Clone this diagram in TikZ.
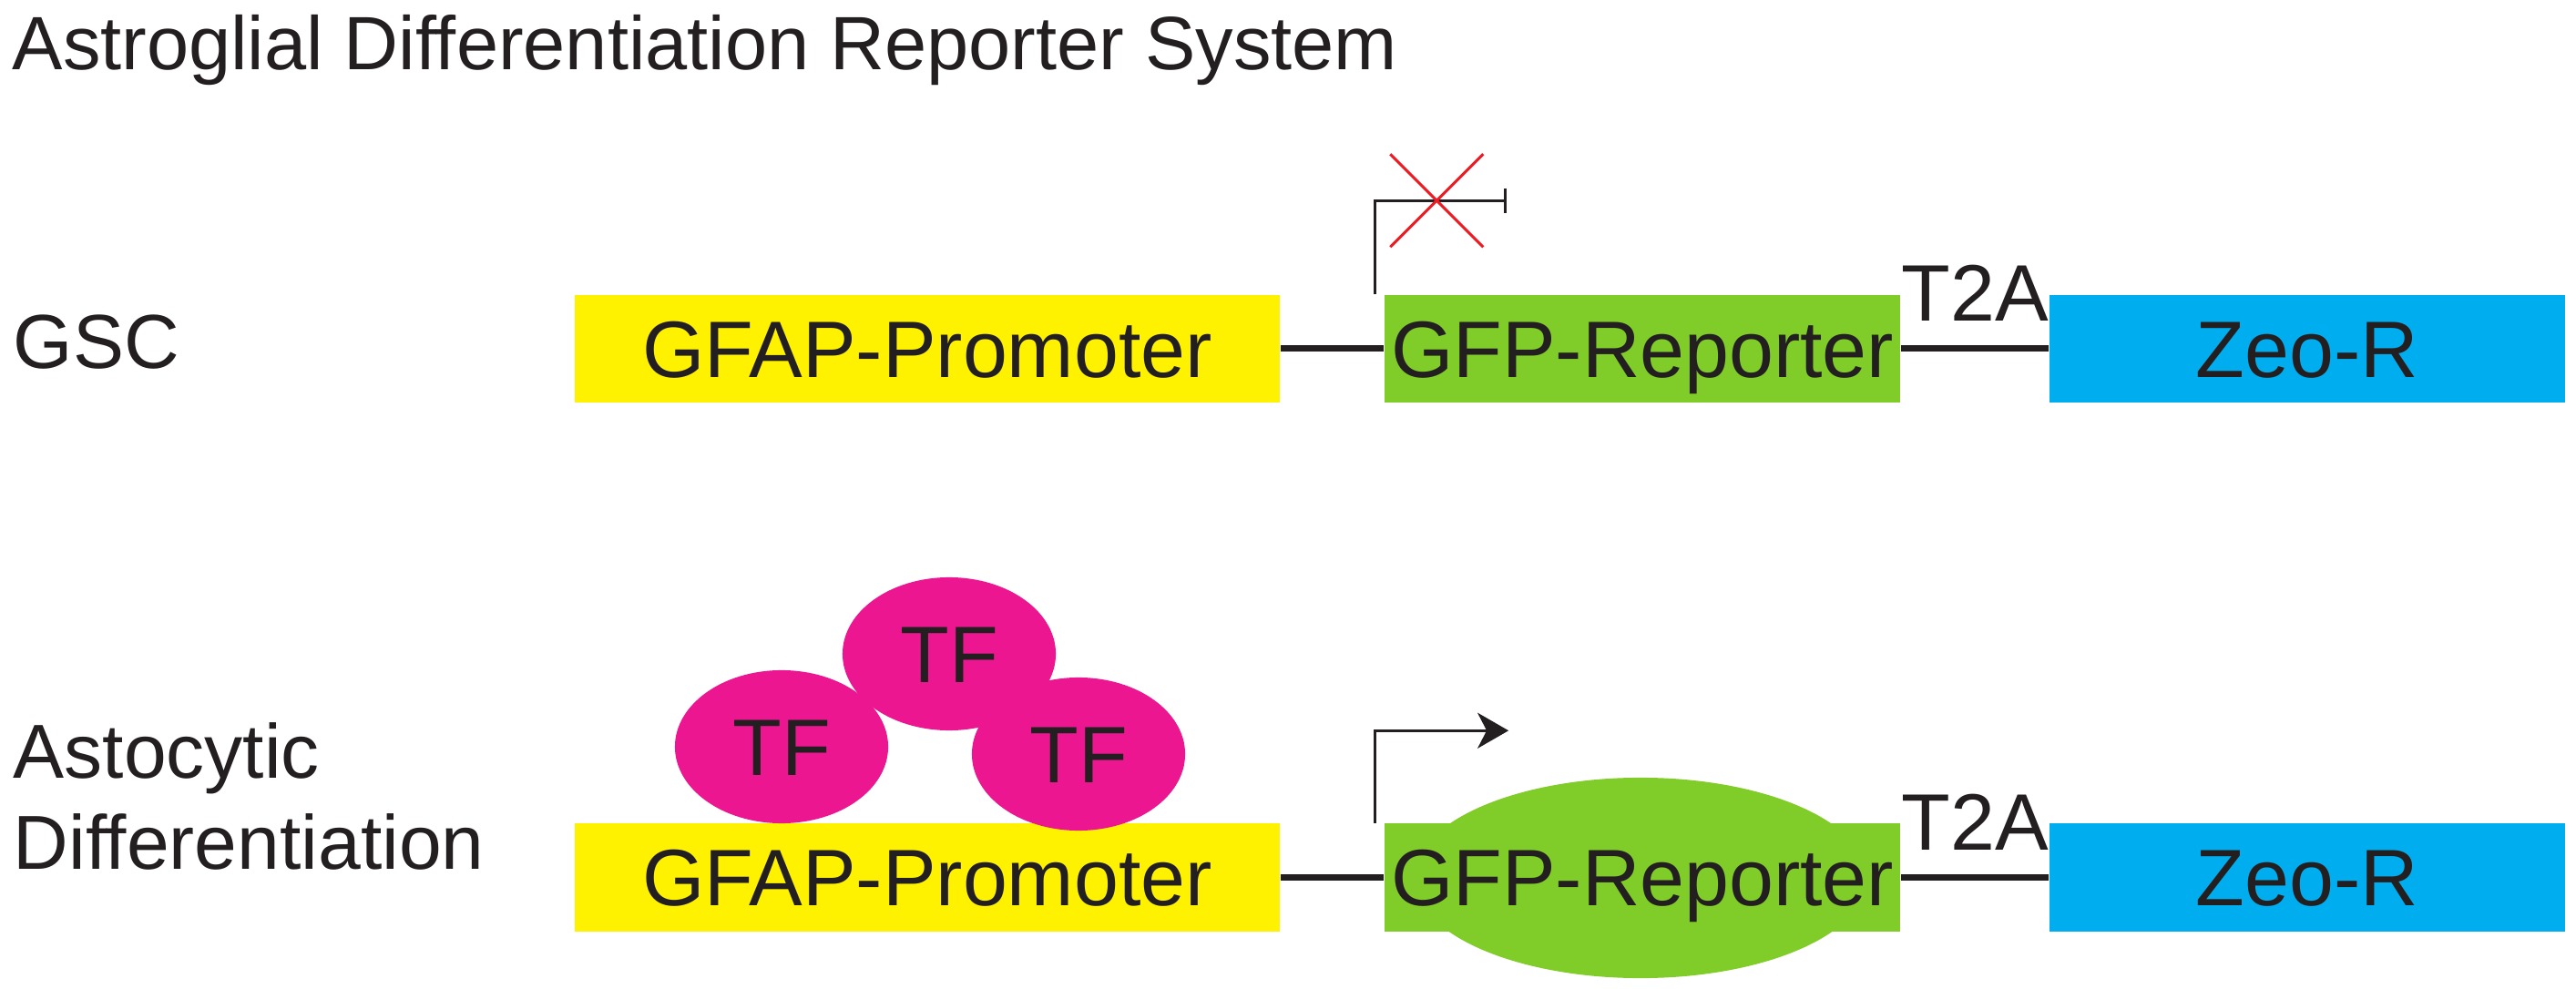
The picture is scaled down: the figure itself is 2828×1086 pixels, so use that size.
\documentclass[tikz,border=0pt]{standalone}
\usepackage{fontspec}
\setmainfont{Liberation Sans}
\usepackage{tikz}
\usetikzlibrary{%
	arrows.meta,%
	shapes.geometric%
}
\definecolor{inkblack}{RGB}{35,31,32}
\definecolor{promyellow}{RGB}{255,242,0}
\definecolor{gfpgreen}{RGB}{128,204,40}
\definecolor{zeoblue}{RGB}{0,174,239}
\definecolor{tfpink}{RGB}{237,22,145}
\definecolor{blockred}{RGB}{237,28,36}
\tikzstyle{gene}=[rectangle, inner sep=0pt, minimum height=1.18cm, text=inkblack, font=\fontsize{25}{30}\selectfont, text height=17.9pt, text depth=0pt]
\tikzstyle{tf}=[ellipse, fill=tfpink, inner sep=0pt, minimum width=2.34cm, minimum height=1.68cm, text=inkblack, font=\fontsize{25}{30}\selectfont, text height=17.9pt, text depth=0pt]
\tikzstyle{rowlabel}=[anchor=base west, inner sep=0pt, text=inkblack, font=\fontsize{23.9}{28}\selectfont]
\tikzstyle{linker}=[anchor=base, inner sep=0pt, yshift=0.3cm, text=inkblack, font=\fontsize{25}{30}\selectfont]
\tikzstyle{dna}=[draw=inkblack, line width=0.07cm]
\tikzstyle{tss}=[draw=inkblack, line width=0.03cm]
\tikzstyle{cross}=[draw=blockred, line width=0.03cm]

\begin{document}
\begin{tikzpicture}[x=0.01cm, y=-0.01cm]
	\useasboundingbox (0,0) rectangle (2828,1086);
	
	% Labels
	\node[rowlabel, font=\fontsize{23.6}{28}\selectfont] (title) at (13,77) {Astroglial Differentiation Reporter System};
	\node[rowlabel] (gsc) at (14,405) {GSC};
	\node[rowlabel] (astro) at (14,854) {Astocytic};
	\node[rowlabel] (diff) at (14,954) {Differentiation};
	
	% GSC row
	\node[gene, fill=promyellow, minimum width=7.74cm] (prom1) at (1018,383) {GFAP-Promoter};
	\node[gene, fill=gfpgreen, minimum width=5.66cm] (gfp1) at (1803,383) {GFP-Reporter};
	\node[gene, fill=zeoblue, minimum width=5.66cm] (zeo1) at (2533,383) {Zeo-R};
	\draw[dna] (prom1) -- (gfp1);
	\draw[dna] (gfp1) -- node[linker] {T2A} (zeo1);
	
	\coordinate (tss1) at ([xshift=-0.1cm]gfp1.north west);
	\draw[tss, -{Bar[width=0.27cm]}] (tss1) -- ++(0,-103) -- coordinate[pos=0.47] (block) ++(145,0);
	\draw[cross] (block) ++(-51,-51) -- ++(102,102);
	\draw[cross] (block) ++(51,-51) -- ++(-102,102);
	
	% Differentiation row
	\node[ellipse, fill=gfpgreen, inner sep=0pt, minimum width=4.98cm, minimum height=2.2cm] (blob) at (1801,964) {};
	\node[gene, fill=promyellow, minimum width=7.74cm] (prom2) at (1018,963.5) {GFAP-Promoter};
	\node[gene, fill=gfpgreen, minimum width=5.66cm] (gfp2) at (1803,963.5) {GFP-Reporter};
	\node[gene, fill=zeoblue, minimum width=5.66cm] (zeo2) at (2533,963.5) {Zeo-R};
	\draw[dna] (prom2) -- (gfp2);
	\draw[dna] (gfp2) -- node[linker] {T2A} (zeo2);
	
	\coordinate (tss2) at ([xshift=-0.1cm]gfp2.north west);
	\draw[tss, -{Stealth[length=0.34cm, width=0.39cm, inset=0.1cm]}] (tss2) -- ++(0,-101.5) -- ++(147,0);
	
	% Transcription factors
	\foreach \name/\x/\y in {tf1/858/820, tf2/1042/718, tf3/1184/828}
	\node[tf] (\name) at (\x,\y) {TF};
\end{tikzpicture}
\end{document}
